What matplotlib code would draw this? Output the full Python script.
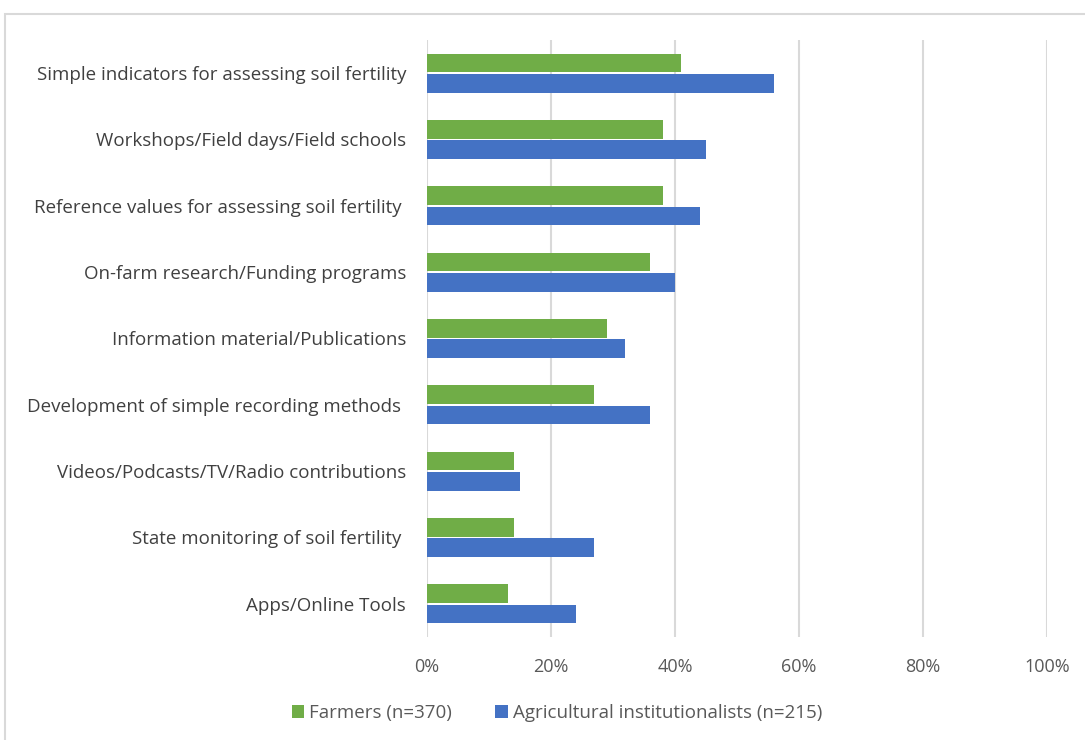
import matplotlib.pyplot as plt
from matplotlib.patches import Rectangle
import numpy as np

plt.rcParams['font.family'] = ['Open Sans', 'DejaVu Sans']

categories = [
    "Simple indicators for assessing soil fertility",
    "Workshops/Field days/Field schools",
    "Reference values for assessing soil fertility ",
    "On-farm research/Funding programs",
    "Information material/Publications",
    "Development of simple recording methods ",
    "Videos/Podcasts/TV/Radio contributions",
    "State monitoring of soil fertility ",
    "Apps/Online Tools",
]
farmers = [41, 38, 38, 36, 29, 27, 14, 14, 13]
institutionalists = [56, 45, 44, 40, 32, 36, 15, 27, 24]
x_ticks = [0, 20, 40, 60, 80, 100]

green = "#70AD47"
blue = "#4472C4"

fig = plt.figure(figsize=(10.85, 7.4), dpi=100)
ax = fig.add_axes([427 / 1085, 1 - 637 / 740, 620 / 1085, 597 / 740])

y = np.arange(len(categories))
h = 0.28
ax.barh(y - 0.155, farmers, height=h, color=green, label="Farmers (n=370)", zorder=3)
ax.barh(y + 0.155, institutionalists, height=h, color=blue,
        label="Agricultural institutionalists (n=215)", zorder=3)

ax.set_ylim(len(categories) - 0.5, -0.5)
ax.set_xlim(0, 100)
ax.set_yticks(y)
ax.set_yticklabels(categories, fontsize=13.5, color="#404040")
ax.set_xticks(x_ticks)
ax.set_xticklabels([f"{t}%" for t in x_ticks], fontsize=13, color="#595959")
ax.tick_params(length=0)
ax.tick_params(axis="y", pad=15)
ax.tick_params(axis="x", pad=15)
ax.grid(axis="x", color="#D9D9D9", linewidth=1.5, zorder=0)
for s in ax.spines.values():
    s.set_visible(False)

fig.legend(loc="center", bbox_to_anchor=(557 / 1085, 1 - 713 / 740), ncol=2,
           frameon=False, fontsize=13.5, handlelength=0.65, handleheight=0.65,
           handletextpad=0.3, columnspacing=2.3, labelcolor="#595959")

fig.add_artist(Rectangle((5 / 1085, -0.01), 1.1, 1 - 14 / 740 + 0.01,
                         transform=fig.transFigure, fill=False,
                         edgecolor="#D9D9D9", linewidth=1.5))

fig.savefig("out.png", dpi=100)
